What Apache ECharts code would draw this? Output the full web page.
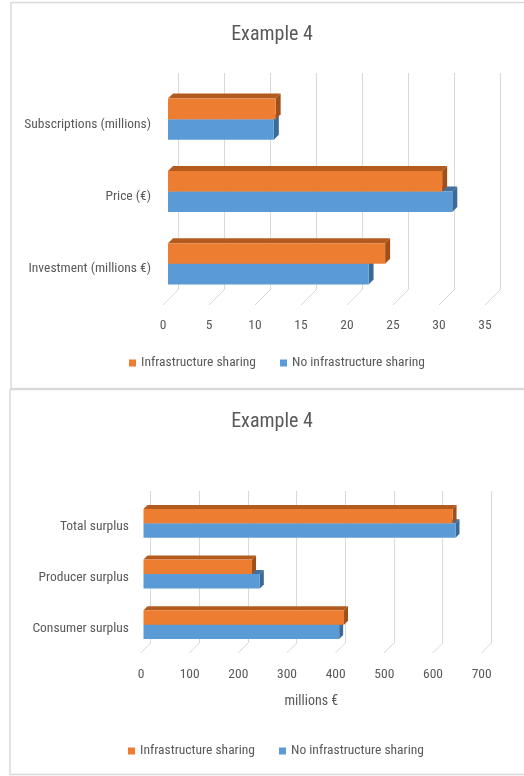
<!DOCTYPE html>
<html>
<head>
<meta charset="utf-8">
<script src="https://cdn.jsdelivr.net/npm/echarts@6/dist/echarts.min.js"></script>
<style>
html,body{margin:0;padding:0;background:#fff;}
#c{width:524px;height:776px;}
</style>
</head>
<body>
<div id="c"></div>
<script>
// ---- data ----
const seriesNames = ['Infrastructure sharing', 'No infrastructure sharing'];
const categories1 = ['Investment (millions €)', 'Price (€)', 'Subscriptions (millions)'];
const sharing1 = [23.6, 29.8, 11.7];
const noSharing1 = [21.8, 30.9, 11.5];
const ticks1 = [0, 5, 10, 15, 20, 25, 30, 35];

const categories2 = ['Consumer surplus', 'Producer surplus', 'Total surplus'];
const sharing2 = [412, 223, 635];
const noSharing2 = [402, 239, 641];
const ticks2 = [0, 100, 200, 300, 400, 500, 600, 700];
const xName2 = 'millions €';
const titleText = 'Example 4';

// ---- styles ----
const FONT = "'Liberation Sans Narrow', 'Roboto Condensed', 'Open Sans', sans-serif";
const TXT = '#595959';
const GRID = '#D9D9D9';
const ORANGE = {front: '#ED7D31', top: '#B35A1F', side: '#A04F1A'};
const BLUE = {front: '#5B9BD5', top: '#41719C', side: '#3A6A98'};

function barRender(slot, depth, colors) {
  return function (params, api) {
    const v = api.value(0), c = api.value(1);
    const p0 = api.coord([0, c]);
    const p1 = api.coord([v, c]);
    const band = api.size([0, 1])[1];
    const h = band * 0.285;
    const yTop = slot === 0 ? p0[1] - h : p0[1];
    const x0 = p0[0], x1 = p1[0], d = depth;
    return {
      type: 'group',
      children: [
        {type: 'polygon', shape: {points: [[x0, yTop], [x0 + d, yTop - d], [x1 + d, yTop - d], [x1, yTop]]}, style: {fill: colors.top}},
        {type: 'polygon', shape: {points: [[x1, yTop], [x1 + d, yTop - d], [x1 + d, yTop + h - d], [x1, yTop + h]]}, style: {fill: colors.side}},
        {type: 'rect', shape: {x: x0, y: yTop, width: x1 - x0, height: h}, style: {fill: colors.front}}
      ]
    };
  };
}

function diagRender(depth) {
  return function (params, api) {
    const p = api.coord([api.value(0), 0]);
    const cs = params.coordSys;
    const yb = cs.y + cs.height;
    return {
      type: 'line',
      shape: {x1: p[0], y1: yb, x2: p[0] - depth, y2: yb + depth},
      style: {stroke: GRID, lineWidth: 1}
    };
  };
}

function axesFor(gridBase, cats, max, interval, withName) {
  const xs = [], ys = [];
  xs.push({gridIndex: gridBase, type: 'value', min: 0, max: max, interval: interval,
    axisLine: {show: false}, axisTick: {show: false}, axisLabel: {show: false},
    splitLine: {show: true, lineStyle: {color: GRID, width: 1}}});
  ys.push({gridIndex: gridBase, type: 'category', data: cats, show: false});
  xs.push({gridIndex: gridBase + 1, type: 'value', min: 0, max: max, interval: interval, show: false, splitLine: {show: false}});
  ys.push({gridIndex: gridBase + 1, type: 'category', data: cats, show: false});
  const fx = {gridIndex: gridBase + 2, type: 'value', min: 0, max: max, interval: interval,
    axisLine: {show: false}, axisTick: {show: false}, splitLine: {show: false},
    axisLabel: {color: TXT, fontSize: 13.5, fontFamily: FONT, margin: 14}};
  if (withName) {
    fx.name = withName; fx.nameLocation = 'middle'; fx.nameGap = 41;
    fx.nameTextStyle = {color: TXT, fontSize: 14, fontFamily: FONT};
  }
  xs.push(fx);
  ys.push({gridIndex: gridBase + 2, type: 'category', data: cats,
    axisLine: {show: false}, axisTick: {show: false},
    axisLabel: {color: TXT, fontSize: 13.5, fontFamily: FONT, margin: 12}});
  return {xs, ys};
}

const a1 = axesFor(0, categories1, 35, 5, null);
const a2 = axesFor(3, categories2, 700, 100, xName2);

const legendBase = {data: seriesNames, icon: 'rect', itemWidth: 7, itemHeight: 7, itemGap: 24, padding: 0,
  textStyle: {color: TXT, fontSize: 13.5, fontFamily: FONT}};

const option = {
  backgroundColor: '#fff',
  animation: false,
  graphic: [
    {type: 'rect', shape: {x: 11, y: 2.5, width: 600, height: 386}, style: {fill: 'none', stroke: GRID, lineWidth: 1.5}, z: -1},
    {type: 'rect', shape: {x: 10, y: 389.5, width: 600, height: 385}, style: {fill: 'none', stroke: GRID, lineWidth: 1.5}, z: -1}
  ],
  title: [
    {text: titleText, left: 267, top: 20, textAlign: 'center', textStyle: {color: TXT, fontSize: 20, fontWeight: 'normal', fontFamily: FONT}},
    {text: titleText, left: 267, top: 407, textAlign: 'center', textStyle: {color: TXT, fontSize: 20, fontWeight: 'normal', fontFamily: FONT}}
  ],
  legend: [
    Object.assign({}, legendBase, {left: 129, top: 356}),
    Object.assign({}, legendBase, {left: 128, top: 744})
  ],
  grid: [
    {left: 178, top: 73, width: 322, height: 217},
    {left: 168, top: 83, width: 322, height: 217},
    {left: 163, top: 88, width: 322, height: 217},
    {left: 150.7, top: 491, width: 340.7, height: 152},
    {left: 143.5, top: 498, width: 340.7, height: 152},
    {left: 141, top: 501.5, width: 340.7, height: 152}
  ],
  xAxis: a1.xs.concat(a2.xs),
  yAxis: a1.ys.concat(a2.ys),
  series: [
    {type: 'custom', name: 'diag1', xAxisIndex: 0, yAxisIndex: 0, renderItem: diagRender(15),
      data: ticks1.map(t => [t]), silent: true},
    {type: 'custom', name: seriesNames[1], xAxisIndex: 1, yAxisIndex: 1, renderItem: barRender(1, 5, BLUE),
      itemStyle: {color: BLUE.front}, data: noSharing1.map((v, i) => [v, i]), encode: {x: 0, y: 1}},
    {type: 'custom', name: seriesNames[0], xAxisIndex: 1, yAxisIndex: 1, renderItem: barRender(0, 5, ORANGE),
      itemStyle: {color: ORANGE.front}, data: sharing1.map((v, i) => [v, i]), encode: {x: 0, y: 1}},
    {type: 'custom', name: 'diag2', xAxisIndex: 3, yAxisIndex: 3, renderItem: diagRender(10),
      data: ticks2.map(t => [t]), silent: true},
    {type: 'custom', name: seriesNames[1], xAxisIndex: 4, yAxisIndex: 4, renderItem: barRender(1, 4, BLUE),
      itemStyle: {color: BLUE.front}, data: noSharing2.map((v, i) => [v, i]), encode: {x: 0, y: 1}},
    {type: 'custom', name: seriesNames[0], xAxisIndex: 4, yAxisIndex: 4, renderItem: barRender(0, 4, ORANGE),
      itemStyle: {color: ORANGE.front}, data: sharing2.map((v, i) => [v, i]), encode: {x: 0, y: 1}}
  ]
};

const chart = echarts.init(document.getElementById('c'));
chart.setOption(option);
</script>
</body>
</html>
